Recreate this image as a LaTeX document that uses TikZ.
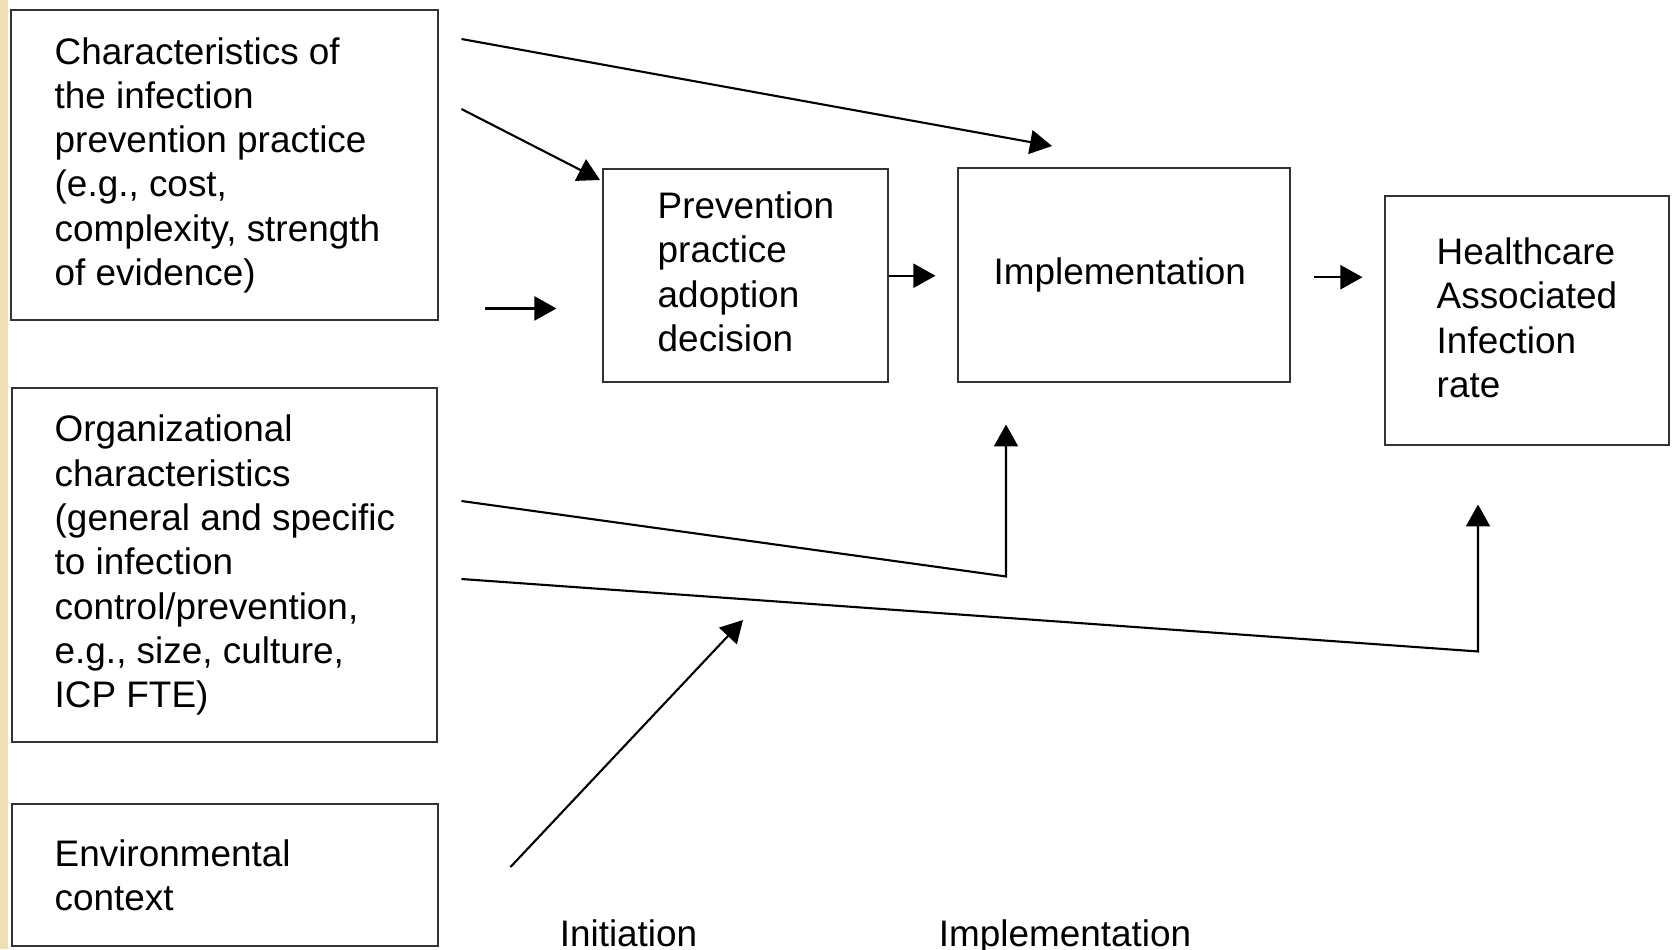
\documentclass[tikz,border=0pt]{standalone}
\usepackage{fontspec}
\setmainfont{Liberation Sans}
\usetikzlibrary{arrows.meta,calc,positioning}
\definecolor{slidebeige}{RGB}{238,224,180}

\begin{document}
\begin{tikzpicture}[>={Triangle[length=2.2mm,width=2.4mm]},
    box/.style={draw=black!80, line width=0.7pt, anchor=north west, inner sep=0pt},
    txt/.style={align=left, inner sep=0pt, font=\fontsize{10.5}{12.6}\selectfont},
    link/.style={->, line width=0.6pt}]

    \useasboundingbox (0,0) rectangle (16.72,-9.49);
    \fill[slidebeige] (0,0) rectangle (0.08,-9.49);

    % boxes
    \node[box, minimum width=4.27cm, minimum height=3.10cm] (char) at (0.10,-0.09) {};
    \node[box, minimum width=4.25cm, minimum height=3.54cm] (org)  at (0.11,-3.87) {};
    \node[box, minimum width=4.26cm, minimum height=1.42cm] (env)  at (0.11,-8.03) {};
    \node[box, minimum width=2.85cm, minimum height=2.13cm] (prev) at (6.02,-1.68) {};
    \node[box, minimum width=3.32cm, minimum height=2.14cm] (impl) at (9.57,-1.67) {};
    \node[box, minimum width=2.84cm, minimum height=2.49cm] (hai)  at (13.84,-1.95) {};

    % texts
    \node[txt, right=0.44cm of char.west] (chartxt) {Characteristics of\\the infection\\prevention practice\\(e.g., cost,\\complexity, strength\\of evidence)};
    \node[txt, right=0.43cm of org.west]  (orgtxt)  {Organizational\\characteristics\\(general and specific\\to infection\\control/prevention,\\e.g., size, culture,\\ICP FTE)};
    \node[txt, right=0.43cm of env.west]  (envtxt)  {Environmental\\context};
    \node[txt, right=0.55cm of prev.west, yshift=0.04cm] (prevtxt) {Prevention\\practice\\adoption\\decision};
    \node[txt, right=0.36cm of impl.west] (impltxt) {Implementation};
    \node[txt, right=0.52cm of hai.west, yshift=0.03cm]  (haitxt)  {Healthcare\\Associated\\Infection\\rate};

    \node[txt, anchor=base] (init)  at (6.285,-9.46) {Initiation};
    \node[txt, anchor=base] (implb) at (10.65,-9.46) {Implementation};

    % free ends
    \coordinate (s1) at ($(char.north east)+(0.22,-0.30)$);
    \coordinate (t1) at ($(impl.north west)+(0.95,0.21)$);
    \coordinate (s2) at ($(char.north east)+(0.22,-1.00)$);
    \coordinate (t2) at ($(prev.north west)+(-0.02,-0.12)$);
    \coordinate (s3) at ($(char.south east)+(0.46,0.13)$);
    \coordinate (t3) at ($(s3)+(0.71,0)$);
    \coordinate (sa) at ($(org.north east)+(0.23,-1.14)$);
    \coordinate (ta) at ($(impl.south west)+(0.49,-0.41)$);
    \coordinate (ca) at ($(ta)+(0,-1.52)$);
    \coordinate (sb) at ($(org.north east)+(0.23,-1.92)$);
    \coordinate (tb) at ($(hai.south west)+(0.94,-0.58)$);
    \coordinate (cb) at ($(tb)+(0,-1.47)$);
    \coordinate (se) at ($(env.north east)+(0.71,-0.64)$);
    \coordinate (te) at (7.43,-6.20);

    % arrows
    \draw[link] (s1) -- (t1);
    \draw[link] (s2) -- (t2);
    \draw[link] (s3) -- (t3);
    \draw[link] (prev.east) -- ($(prev.east)+(0.46,0)$);
    \draw[link] ($(impl.east)+(0.23,-0.02)$) -- ($(impl.east)+(0.71,-0.02)$);
    \draw[link] (sa) -- (ca) -- (ta);
    \draw[link] (sb) -- (cb) -- (tb);
    \draw[link] (se) -- (te);

\end{tikzpicture}
\end{document}
